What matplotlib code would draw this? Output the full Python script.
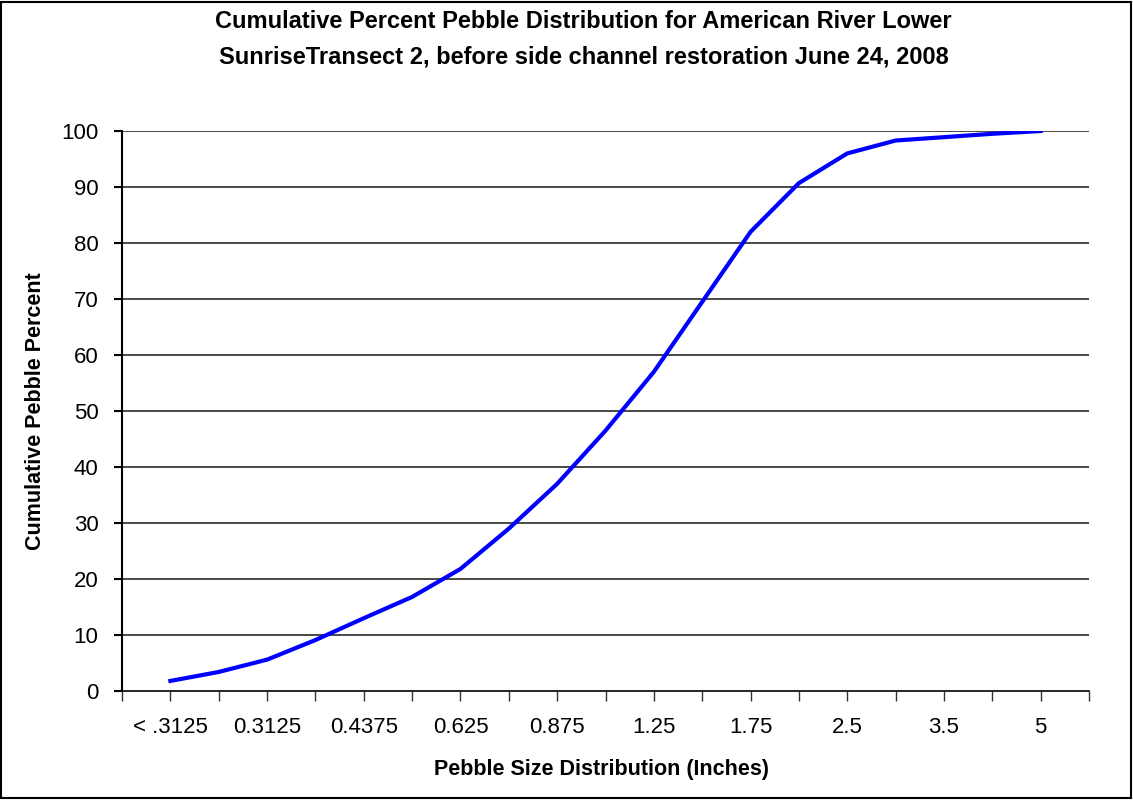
import matplotlib
matplotlib.use("Agg")
import matplotlib.pyplot as plt
from matplotlib.patches import Rectangle

# cumulative percent read at each size class (19 classes, every other one labelled)
cum_percent = [1.8, 3.4, 5.6, 9.1, 13.0, 16.8, 21.8, 29.0, 37.0, 46.5,
               57.0, 69.5, 82.0, 90.7, 96.0, 98.3, 98.9, 99.5, 100.0]
size_labels = ["< .3125", "0.3125", "0.4375", "0.625", "0.875",
               "1.25", "1.75", "2.5", "3.5", "5"]
y_ticks = [0, 10, 20, 30, 40, 50, 60, 70, 80, 90, 100]


def main():
    plt.rcParams["font.family"] = ["Liberation Sans", "DejaVu Sans"]

    fig = plt.figure(figsize=(11.33, 8), dpi=100)
    ax = fig.add_axes([0.1077, 0.13625, 0.8535, 0.70])

    x = list(range(1, len(cum_percent) + 1))
    ax.plot(x, cum_percent, color="#0000FF", linewidth=3, solid_joinstyle="round",
            zorder=3)

    ax.set_xlim(0, len(cum_percent) + 1)
    ax.set_ylim(0, 100)
    ax.xaxis.remove_overlapping_locs = False
    ax.set_xticks(range(0, len(cum_percent) + 2))
    ax.set_xticklabels([""] * (len(cum_percent) + 2))
    ax.set_xticks(x[::2], minor=True)
    ax.set_xticklabels(size_labels, minor=True)
    ax.tick_params(axis="x", which="major", direction="out", length=7,
                   width=1, color="#333333")
    ax.tick_params(axis="x", which="minor", length=0, pad=19, labelsize=16)
    ax.set_yticks(y_ticks)
    ax.tick_params(axis="y", direction="out", length=6, width=1.5,
                   color="black", labelsize=16, pad=11)

    for v in y_ticks[1:]:
        ax.axhline(v, color="#2a2a2a", linewidth=1.2, zorder=1)

    for s in ["top", "right"]:
        ax.spines[s].set_visible(False)
    ax.spines["left"].set_linewidth(1.5)
    ax.spines["bottom"].set_linewidth(1.2)

    fig.text(36 / 1133, 1 - 411 / 800, "Cumulative Pebble Percent", rotation=90,
             ha="center", va="center", fontsize=15.5, fontweight="bold")
    fig.text(601 / 1133, 1 - 769 / 800, "Pebble Size Distribution (Inches)",
             ha="center", va="center", fontsize=15.5, fontweight="bold")

    fig.text(0.515, 1 - 21 / 800, "Cumulative Percent Pebble Distribution for American River Lower",
             ha="center", va="center", fontsize=17, fontweight="bold")
    fig.text(0.515, 1 - 57 / 800, "SunriseTransect 2, before side channel restoration June 24, 2008",
             ha="center", va="center", fontsize=17, fontweight="bold")

    fig.patches.append(Rectangle((0.001, 0.003), 0.997, 0.995, transform=fig.transFigure,
                                 fill=False, edgecolor="black", linewidth=1.5))

    fig.savefig("out.png", dpi=100)


if __name__ == "__main__":
    main()
